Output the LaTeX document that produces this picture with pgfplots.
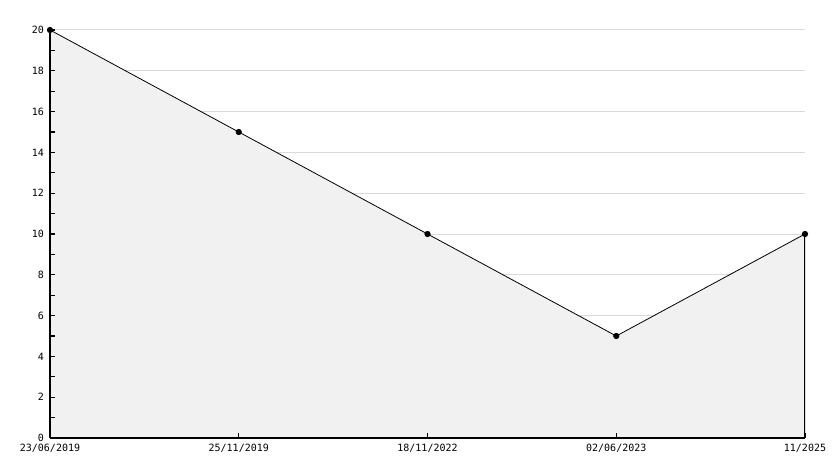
\documentclass[border=0pt]{standalone}
\usepackage{fontspec}
\setmainfont{DejaVu Sans Mono}
\usepackage{pgfplots}
\pgfplotsset{compat=1.18}
\definecolor{areafill}{HTML}{F1F1F1}
\definecolor{gridgray}{HTML}{DADADA}
\pgfplotsset{
    base/.style={
        scale only axis,
        width=566.25pt, height=306pt,
        xmin=0, xmax=4, ymin=0, ymax=20,
        axis x line*=bottom, axis y line*=left,
        xtick={0,1,2,3,4},
        ytick={0,2,...,20},
    },
}
\begin{document}
\begin{tikzpicture}
% grid only, underneath
\begin{axis}[
    base,
    axis line style={draw=none},
    xticklabels={}, yticklabels={},
    major tick length=0pt,
    ymajorgrids,
    grid style={gridgray, line width=0.75pt},
]
\addplot[draw=none] coordinates {(0,0)};
\end{axis}
% data, ticks and labels on top
\begin{axis}[
    base,
    axis on top,
    axis line style={line width=0.9pt, black, -},
    xticklabels={23/06/2019, 25/11/2019, 18/11/2022, 02/06/2023, 11/2025},
    minor y tick num=1,
    tick align=inside,
    major tick length=4pt, minor tick length=4pt,
    every tick/.style={black, line width=0.8pt},
    ticklabel style={font=\fontsize{7.5}{8}\selectfont},
    /pgf/number format/assume math mode=true,
    xticklabel style={yshift=-1pt},
    yticklabel style={xshift=-1pt},
]
\addplot[fill=areafill, draw=none, mark=none] coordinates {
    (0,20) (1,15) (2,10) (3,5) (4,10)} \closedcycle;
\addplot[black, line width=0.6pt, mark=*, mark size=2pt,
    mark options={fill=black}] coordinates {
    (0,20) (1,15) (2,10) (3,5) (4,10)};
\addplot[black, line width=0.8pt] coordinates {(4,0) (4,10)};
\end{axis}
\pgfresetboundingbox
\useasboundingbox ([shift={(-37.5pt,-22.5pt)}]current axis.south west)
    rectangle ([shift={(21.75pt,22.5pt)}]current axis.north east);
\end{tikzpicture}
\end{document}
